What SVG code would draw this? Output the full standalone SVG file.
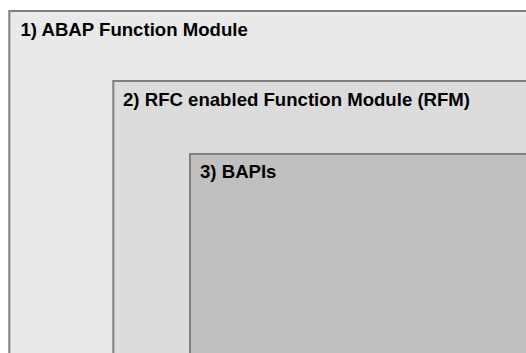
<svg xmlns="http://www.w3.org/2000/svg" width="526" height="353" viewBox="0 0 526 353">
<style>
.box{stroke:#808080;stroke-width:2}
.lbl{font-family:"Liberation Sans",Arial,sans-serif;font-weight:bold;font-size:18.6px;fill:#000}
</style>
<rect width="526" height="353" fill="#ffffff"/>
<g id="abap-function-module">
<rect class="box" x="9.3" y="11" width="600" height="400" fill="#e9e9e9"/>
<text class="lbl" x="20.5" y="36">1) ABAP Function Module</text>
</g>
<g id="rfc-enabled-function-module">
<rect class="box" x="113.3" y="81" width="500" height="400" fill="#dcdcdc"/>
<text class="lbl" x="123" y="105.5">2) RFC enabled Function Module (RFM)</text>
</g>
<g id="bapis">
<rect class="box" x="190" y="154" width="400" height="300" fill="#c0c0c0"/>
<text class="lbl" x="200" y="177.5">3) BAPIs</text>
</g>
<g id="connectors"></g>
</svg>
